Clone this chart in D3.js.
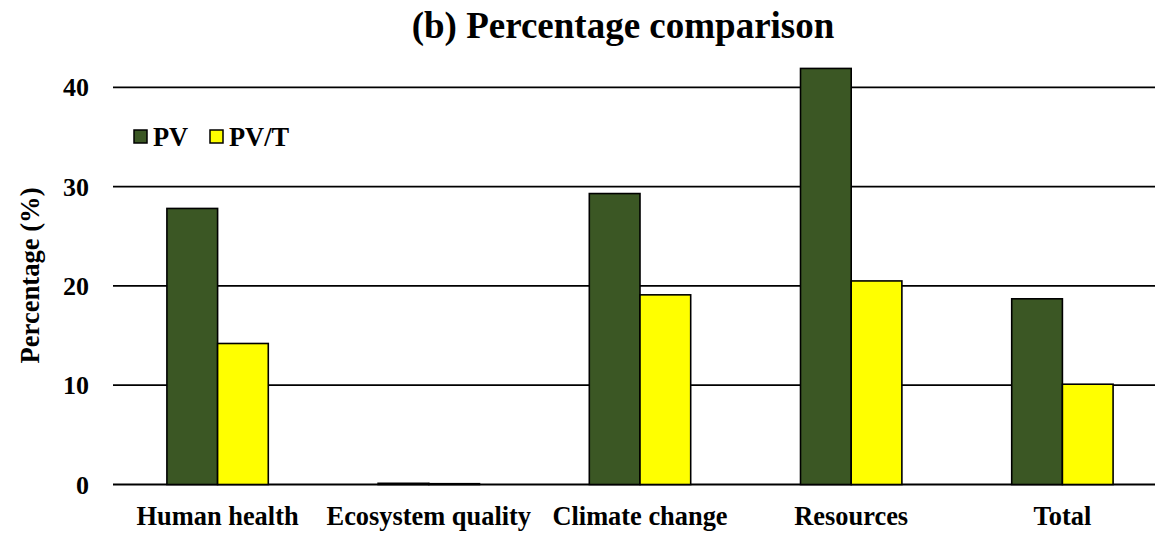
<!DOCTYPE html>
<html><head><meta charset="utf-8">
<script src="https://cdn.jsdelivr.net/npm/d3@7"></script>
<style>body{margin:0;background:#fff}svg{display:block}</style>
</head><body>
<svg id="chart" width="1155" height="535"></svg>
<script>
const categories = ["Human health", "Ecosystem quality", "Climate change", "Resources", "Total"];
const seriesNames = ["PV", "PV/T"];
const pvValues = [27.8, 0.12, 29.3, 41.9, 18.7];
const pvtValues = [14.2, 0.08, 19.1, 20.5, 10.1];
const yTicks = [0, 10, 20, 30, 40];
const colors = ["#3B5724", "#FFFF00"];

const svg = d3.select("#chart");
const font = "'Liberation Serif','Times New Roman',serif";
const x = d3.scaleBand().domain(categories).range([112, 1168]).paddingInner(0.52).paddingOuter(0.26);
const xs = d3.scaleBand().domain(seriesNames).range([0, x.bandwidth()]);
const y = d3.scaleLinear().domain([0, 40]).range([484.5, 87.3]);

// gridlines
svg.append("g").selectAll("line").data(yTicks).join("line")
  .attr("x1", 113).attr("x2", 1155)
  .attr("y1", d => y(d)).attr("y2", d => y(d))
  .attr("stroke", "#000").attr("stroke-width", 1.8);

// y tick labels
svg.append("g").selectAll("text").data(yTicks).join("text")
  .attr("x", 89).attr("y", d => y(d)).attr("dy", "0.35em")
  .attr("text-anchor", "end").attr("font-family", font).attr("font-weight", "bold")
  .attr("font-size", 26).text(d => d);

// bars
const rows = categories.map((c, i) => ({cat: c, vals: [pvValues[i], pvtValues[i]]}));
const grp = svg.append("g").selectAll("g").data(rows).join("g")
  .attr("transform", d => `translate(${x(d.cat)},0)`);
grp.selectAll("rect").data(d => d.vals.map((v, j) => ({v, s: seriesNames[j], j}))).join("rect")
  .attr("x", d => xs(d.s)).attr("width", xs.bandwidth())
  .attr("y", d => y(d.v)).attr("height", d => y(0) - y(d.v))
  .attr("fill", d => colors[d.j]).attr("stroke", "#000").attr("stroke-width", 1.6);

// x labels
svg.append("g").selectAll("text").data(categories).join("text")
  .attr("x", d => x(d) + x.bandwidth() / 2).attr("y", 525)
  .attr("text-anchor", "middle").attr("font-family", font).attr("font-weight", "bold")
  .attr("font-size", 26.4).text(d => d);

// title
svg.append("text").attr("x", 623).attr("y", 38).attr("text-anchor", "middle")
  .attr("font-family", font).attr("font-weight", "bold").attr("font-size", 37)
  .text("(b) Percentage comparison");

// y axis label
svg.append("text").attr("transform", "translate(39,275.5) rotate(-90)")
  .attr("text-anchor", "middle").attr("font-family", font).attr("font-weight", "bold")
  .attr("font-size", 26.6).text("Percentage (%)");

// legend
const legX = [134, 210];
const leg = svg.append("g").selectAll("g").data(seriesNames).join("g")
  .attr("transform", (d, i) => `translate(${legX[i]},130)`);
leg.append("rect").attr("width", 13).attr("height", 13)
  .attr("fill", (d, i) => colors[i]).attr("stroke", "#000").attr("stroke-width", 1.5);
leg.append("text").attr("x", 19).attr("y", 6.5).attr("dy", "0.35em")
  .attr("font-family", font).attr("font-weight", "bold").attr("font-size", 26.4).text(d => d);
</script>
</body></html>
